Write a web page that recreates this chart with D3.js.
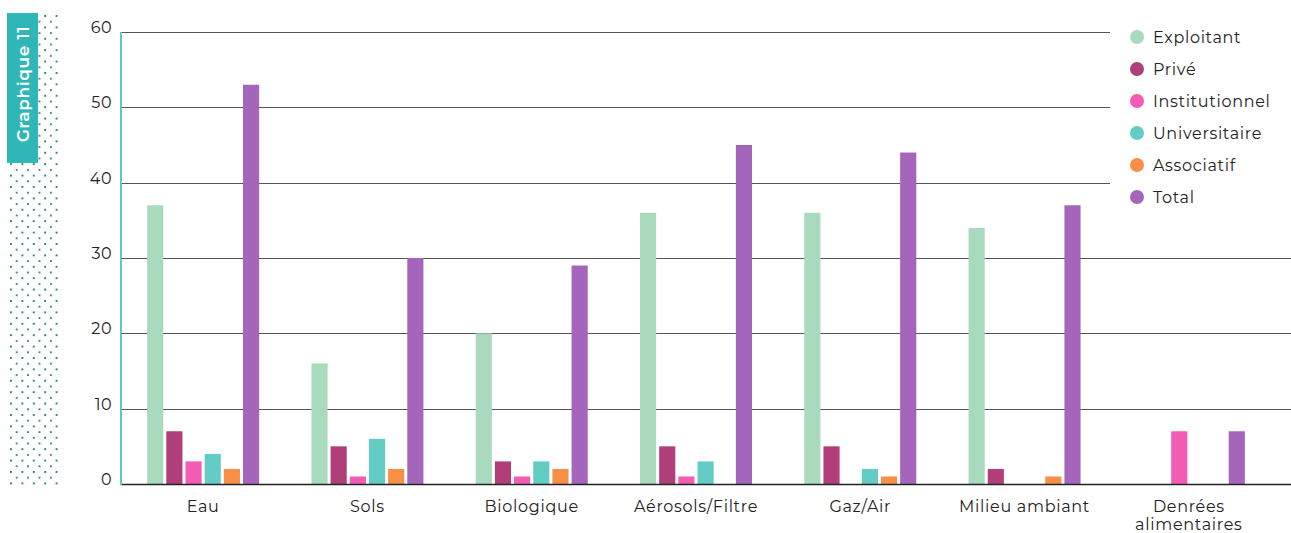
<!DOCTYPE html>
<html>
<head>
<meta charset="utf-8">
<script src="https://cdn.jsdelivr.net/npm/d3@7"></script>
<style>
  body { margin: 0; background: #fff; }
  svg { display: block; font-family: Montserrat, "Noto Sans", "Open Sans", sans-serif; }
</style>
</head>
<body>
<div id="chart"></div>
<script>
const categories = ["Eau", "Sols", "Biologique", "Aérosols/Filtre", "Gaz/Air", "Milieu ambiant", "Denrées alimentaires"];
const seriesNames = ["Exploitant", "Privé", "Institutionnel", "Universitaire", "Associatif", "Total"];
const seriesColors = ["#a9dabd", "#b03e78", "#f25cb4", "#62ccc5", "#f78f47", "#a466ba"];

const exploitant = [37, 16, 20, 36, 36, 34, 0];
const prive = [7, 5, 3, 5, 5, 2, 0];
const institutionnel = [3, 1, 1, 1, 0, 0, 7];
const universitaire = [4, 6, 3, 3, 2, 0, 0];
const associatif = [2, 2, 2, 0, 1, 1, 0];
const total = [53, 30, 29, 45, 44, 37, 7];

const yTicks = [0, 10, 20, 30, 40, 50, 60];

const series = [exploitant, prive, institutionnel, universitaire, associatif, total];

const width = 1291, height = 533;
const margin = { left: 121, right: 0, top: 32, bottom: 49 };

const svg = d3.select("#chart").append("svg")
  .attr("width", width)
  .attr("height", height);

// left badge with dotted pattern
const defs = svg.append("defs");
const pat = defs.append("pattern")
  .attr("id", "dots")
  .attr("patternUnits", "userSpaceOnUse")
  .attr("width", 11.4)
  .attr("height", 11.4)
  .attr("x", 10)
  .attr("y", 15);
pat.append("circle").attr("cx", 1).attr("cy", 1).attr("r", 1.05).attr("fill", "#127c74");
pat.append("circle").attr("cx", 6.7).attr("cy", 6.7).attr("r", 1.05).attr("fill", "#127c74");

svg.append("rect")
  .attr("x", 9).attr("y", 14)
  .attr("width", 50).attr("height", 474)
  .attr("fill", "url(#dots)");

svg.append("rect")
  .attr("x", 7).attr("y", 13)
  .attr("width", 31).attr("height", 150)
  .attr("fill", "#2fb6b6");

svg.append("text")
  .attr("transform", "translate(28.5,84) rotate(-90)")
  .attr("text-anchor", "middle")
  .attr("fill", "#fff")
  .style("font-size", "17px")
  .style("font-weight", "600")
  .style("letter-spacing", "0.6px")
  .text("Graphique 11");

// scales
const x0 = d3.scaleBand()
  .domain(categories)
  .range([121, 1271])
  .paddingInner(0)
  .paddingOuter(0);

const x1 = d3.scaleBand()
  .domain(d3.range(seriesNames.length))
  .range([x0.bandwidth() / 2 - 56, x0.bandwidth() / 2 + 56])
  .paddingInner(3 / 19);

const y = d3.scaleLinear()
  .domain([0, 60])
  .range([height - margin.bottom, margin.top]);

// gridlines
svg.append("g")
  .selectAll("line")
  .data(yTicks.filter(d => d > 0))
  .join("line")
  .attr("x1", margin.left)
  .attr("x2", d => d >= 40 ? 1110 : width)
  .attr("y1", d => Math.round(y(d)) + 0.5)
  .attr("y2", d => Math.round(y(d)) + 0.5)
  .attr("stroke", "#555")
  .attr("stroke-width", 1);

// y tick labels
svg.append("g")
  .selectAll("text")
  .data(yTicks)
  .join("text")
  .attr("x", 112)
  .attr("y", d => y(d) + 1)
  .attr("text-anchor", "end")
  .attr("fill", "#222")
  .style("font-size", "16px")
  .style("letter-spacing", "0.5px")
  .text(d => d);

// bars
const groups = svg.append("g")
  .selectAll("g")
  .data(categories)
  .join("g")
  .attr("transform", d => `translate(${x0(d)},0)`);

groups.selectAll("rect")
  .data((d, i) => series.map((s, j) => ({ k: j, v: s[i] })).filter(e => e.v > 0))
  .join("rect")
  .attr("x", d => x1(d.k))
  .attr("width", x1.bandwidth())
  .attr("y", d => y(d.v))
  .attr("height", d => y(0) - y(d.v))
  .attr("fill", d => seriesColors[d.k]);

// baseline
svg.append("line")
  .attr("x1", margin.left).attr("x2", width)
  .attr("y1", y(0) + 0.5).attr("y2", y(0) + 0.5)
  .attr("stroke", "#222")
  .attr("stroke-width", 1.3);

// y axis line
svg.append("line")
  .attr("x1", 121).attr("x2", 121)
  .attr("y1", y(60)).attr("y2", y(0) + 1)
  .attr("stroke", "#5ec8c0")
  .attr("stroke-width", 2);

// x labels
const xl = svg.append("g")
  .selectAll("text")
  .data(categories)
  .join("text")
  .attr("x", d => x0(d) + x0.bandwidth() / 2)
  .attr("y", 512)
  .attr("text-anchor", "middle")
  .attr("fill", "#222")
  .style("font-size", "16px")
  .style("letter-spacing", "0.7px");

xl.each(function(d) {
  const t = d3.select(this);
  if (d === "Denrées alimentaires") {
    t.append("tspan").attr("x", x0(d) + x0.bandwidth() / 2).attr("dy", 0).text("Denrées");
    t.append("tspan").attr("x", x0(d) + x0.bandwidth() / 2).attr("dy", 18).text("alimentaires");
  } else {
    t.text(d);
  }
});

// legend
const legend = svg.append("g").attr("transform", "translate(1137,37)");
const li = legend.selectAll("g")
  .data(seriesNames)
  .join("g")
  .attr("transform", (d, i) => `translate(0,${i * 32})`);
li.append("circle").attr("r", 7).attr("fill", (d, i) => seriesColors[i]);
li.append("text")
  .attr("x", 16)
  .attr("dy", "0.38em")
  .attr("fill", "#222")
  .style("font-size", "16px")
  .style("letter-spacing", "0.7px")
  .text(d => d);
</script>
</body>
</html>
